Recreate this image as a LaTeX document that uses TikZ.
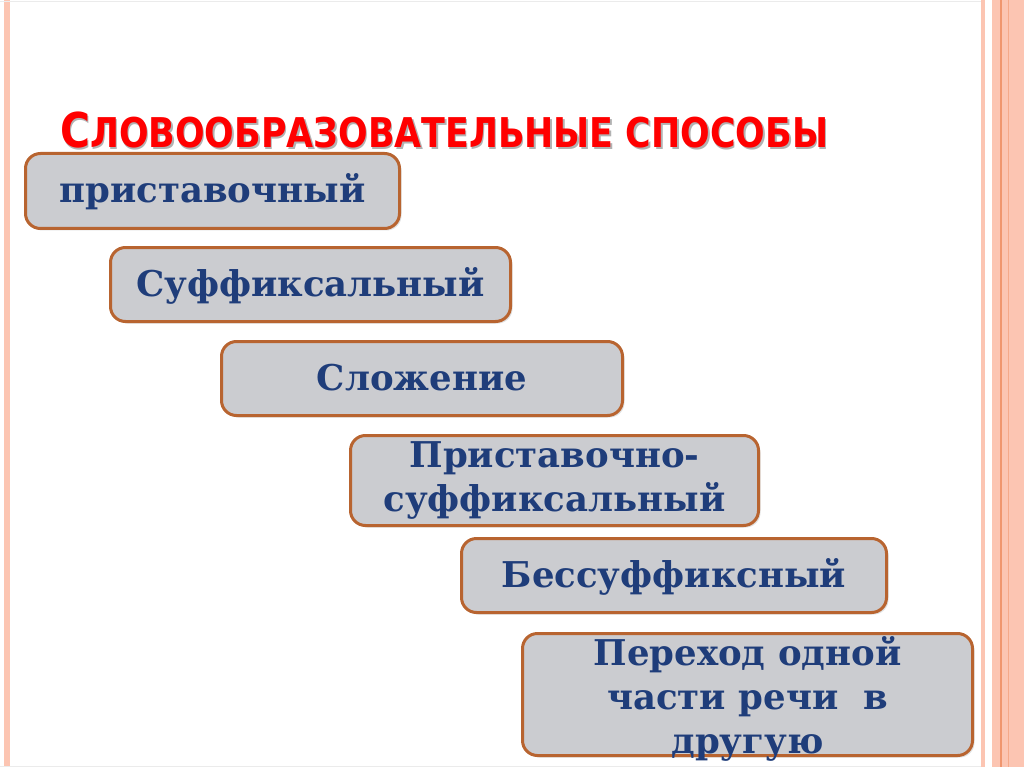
\documentclass[tikz,border=0pt]{standalone}
\usepackage{fontspec}
\usepackage{graphicx}
\setmainfont{DejaVu Serif}
\newfontfamily\titlefont{DejaVu Sans}
\usetikzlibrary{shadows}
\definecolor{boxfill}{RGB}{203,204,208}
\definecolor{boxline}{RGB}{184,100,48}
\definecolor{txtblue}{RGB}{31,61,122}
\definecolor{stripe}{RGB}{252,197,178}
\definecolor{stripedark}{RGB}{240,150,110}
\definecolor{titlered}{RGB}{255,0,0}
\newcommand{\mytitletext}{\resizebox{768pt}{\height}{\titlefont\bfseries{\fontsize{48}{48}\selectfont С}{\fontsize{41}{41}\selectfont ЛОВООБРАЗОВАТЕЛЬНЫЕ СПОСОБЫ}}}
\begin{document}
\begin{tikzpicture}[x=1pt,y=-1pt,
  stepbox/.style={draw=boxline, line width=3pt, fill=boxfill, rounded corners=15pt,
    inner sep=0pt, font=\bfseries\fontsize{35.5}{44}\selectfont, text=txtblue, align=center,
    drop shadow={opacity=0.25, shadow xshift=2pt, shadow yshift=-2pt}},
  single/.style={text height=28pt, text depth=4pt},
  lbl/.style={inner sep=0pt, font=\bfseries\fontsize{35.5}{44}\selectfont, text=txtblue, align=center},
  titlestyle/.style={anchor=base west, inner sep=0pt}
]
\useasboundingbox (0,0) rectangle (1024,767);
\fill[white] (0,0) rectangle (1024,767);
% borders
\fill[stripe] (4,0) rectangle (10,767);
\fill[stripe] (981,0) rectangle (985,767);
\fill[stripe] (992,0) rectangle (1024,767);
\fill[stripedark] (999.5,0) rectangle (1001.5,767);
\fill[stripedark!60!stripe] (1007.5,0) rectangle (1008.5,767);
\draw[black!8, line width=0.8pt] (0,1) -- (981,1);
\draw[black!8, line width=0.8pt] (0,766) -- (981,766);
% title
\node[titlestyle, text=black, opacity=0.3] (titleshadow) at (61.5,149.5) {\mytitletext};
\node[titlestyle, text=titlered] (title) at (60,148) {\mytitletext};
% boxes
\node[stepbox, single, minimum width=374pt, minimum height=75pt] (b1) at (212.5,191) {приставочный};
\node[stepbox, single, minimum width=400pt, minimum height=74pt] (b2) at (310.5,284.5) {Суффиксальный};
\node[stepbox, single, minimum width=401pt, minimum height=74pt] (b3) at (422,378.5) {Сложение};
\node[stepbox, minimum width=408pt, minimum height=90pt] (b4) at (554.5,480.5) {Приставочно-\\суффиксальный};
\node[stepbox, single, minimum width=425pt, minimum height=74pt] (b5) at (674,575.5) {Бессуффиксный};
\node[stepbox, minimum width=450pt, minimum height=122pt] (b6) at (747.5,694.5) {};
\node[lbl, yshift=-4.5pt] (t6) at (b6.center) {Переход одной\\части речи~~в\\другую};
\end{tikzpicture}
\end{document}
